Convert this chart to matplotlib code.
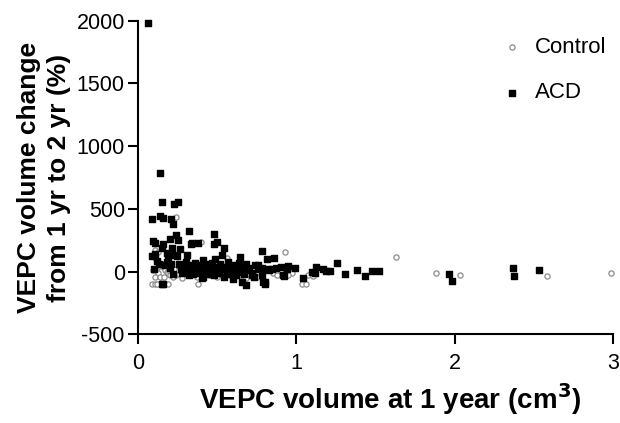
import matplotlib
matplotlib.use("Agg")
import matplotlib.pyplot as plt

plt.rcParams['font.family'] = ['Liberation Sans', 'DejaVu Sans']
plt.rcParams['axes.unicode_minus'] = False

# Control group: volume at 1 year (cm3), change 1->2 yr (%)
ctrl_x = [0.087, 0.107, 0.12, 0.19, 0.38, 1.034, 1.06,
          0.238, 0.398, 0.93, 1.628, 0.975, 1.072, 1.107, 1.883, 2.034, 2.582, 2.988,
          0.097, 0.11, 0.124, 0.107, 0.12, 0.135, 0.155, 0.16, 0.17, 0.18, 0.19, 0.2,
          0.125, 0.11, 0.14, 0.165, 0.2, 0.22, 0.24, 0.26, 0.25, 0.23, 0.28, 0.3,
          0.33, 0.35, 0.37, 0.4, 0.42, 0.45, 0.47, 0.5, 0.52, 0.55, 0.58, 0.6, 0.62,
          0.65, 0.68, 0.7, 0.72, 0.75, 0.8, 0.85, 0.88, 0.9, 0.95, 0.56]
ctrl_y = [-100, -100, -100, -100, -100, -100, -100,
          439, 239, 155, 120, -13, -26, -34, -13, -26, -37, -13,
          13, 170, 160, 107, 30, 45, 60, 35, 10, 0, -10, 0,
          -10, -40, -40, -40, -30, -40, -30, -20, 10, 20, -50, 30,
          -30, -10, -40, 20, -20, -30, 10, -40, -20, 0, -30, -10, 30,
          -30, -50, 10, -20, -40, 20, -10, -30, 10, -30, 110]

# ACD group
acd_x = [0.063, 0.139, 0.15, 0.23, 0.255, 0.087, 0.139, 0.156, 0.208, 0.223,
         0.325, 0.48, 0.24, 0.255, 0.097, 0.107, 0.16, 0.154, 0.202, 0.48,
         0.497, 0.335, 0.265, 0.217, 0.543, 0.087, 0.107, 0.181, 0.23, 0.244,
         0.307, 0.785, 0.817, 0.861, 0.118, 0.181, 0.15, 0.16, 0.68, 0.8,
         0.805, 1.045, 1.259, 1.124, 0.992, 1.171, 1.19, 1.213, 1.308, 1.385,
         1.434, 1.476, 1.524, 1.097, 1.12, 0.922, 0.9, 0.94, 1.967, 1.981,
         2.367, 2.377, 2.533,
         0.339, 0.381, 0.529, 0.486, 0.412, 0.644, 0.402, 0.602, 0.76, 0.781,
         0.823, 0.844, 0.949, 0.718, 0.735, 0.792, 0.918, 0.655,
         0.26, 0.27, 0.28, 0.29, 0.3, 0.31, 0.32, 0.33, 0.34, 0.35, 0.36, 0.37,
         0.38, 0.39, 0.4, 0.41, 0.42, 0.43, 0.44, 0.45, 0.46, 0.47, 0.48, 0.49,
         0.5, 0.51, 0.52, 0.53, 0.54, 0.55, 0.56, 0.57, 0.58, 0.59, 0.6, 0.61,
         0.62, 0.63, 0.64, 0.65, 0.66, 0.67, 0.68, 0.69, 0.7, 0.72, 0.74, 0.76,
         0.78, 0.83, 0.87, 0.2, 0.21, 0.22, 0.19, 0.17, 0.13, 0.1]
acd_y = [1980, 785, 553, 540, 553, 418, 444, 431, 418, 378,
         325, 303, 293, 253, 247, 226, 218, 191, 261, 221,
         239, 218, 178, 187, 191, 125, 139, 152, 133, 128,
         133, 165, 101, 107, 85, 80, -100, -100, -106, -100,
         -84, -53, 67, 40, 27, 22, 6, 6, -18, 14,
         -34, 8, 8, -5, -10, -32, 40, 20, -21, -72,
         27, -32, 11,
         226, 226, 133, 99, 93, 120, -53, -58, 53, 27,
         20, 20, 45, -26, -40, -80, -26, -80,
         60, 20, -10, 40, 80, 0, -30, 50, 10, -20, 70, 30,
         -10, 50, 0, -40, 20, 60, -20, 30, 0, 70, -30, 40,
         10, -10, 60, 20, -40, 40, 0, 80, 20, -20, 50, 10,
         -30, 30, 70, 0, 40, -20, 60, 10, 30, -10, 50, 20,
         -30, 10, 30, 30, 60, -20, 100, 50, 60, 20]

x_ticks = [0, 1, 2, 3]
y_ticks = [-500, 0, 500, 1000, 1500, 2000]

fig = plt.figure(figsize=(6.2, 4.23), dpi=100)
ax = fig.add_axes([0.2226, 0.2097, 0.7661, 0.7413])

ax.scatter(ctrl_x, ctrl_y, s=14, facecolors='white', edgecolors='#8c8c8c',
           linewidths=0.9, label='Control', clip_on=False, zorder=2)
ax.scatter(acd_x, acd_y, s=15, marker='s', color='black', label='ACD',
           clip_on=False, zorder=3)

ax.set_xlim(0, 3)
ax.set_ylim(-500, 2000)
ax.set_xticks(x_ticks)
ax.set_yticks(y_ticks)
ax.tick_params(direction='out', length=7, width=1.5, labelsize=15.5)
ax.tick_params(axis='x', pad=6.5)
ax.tick_params(axis='y', pad=2.5)

for side in ['top', 'right']:
    ax.spines[side].set_visible(False)
for side in ['left', 'bottom']:
    ax.spines[side].set_linewidth(1.5)

ax.set_xlabel('VEPC volume at 1 year (cm$^\\mathbf{3}$)', fontsize=20,
              fontweight='bold')
ax.xaxis.set_label_coords(0.531, -0.148)
ax.set_ylabel('VEPC volume change\nfrom 1 yr to 2 yr (%)', fontsize=19,
              fontweight='bold', labelpad=4, linespacing=1.3)

ax.legend(loc='upper left', bbox_to_anchor=(0.764, 0.948), frameon=False,
          fontsize=16, labelspacing=1.1, handlelength=1.0, handletextpad=0.55,
          borderpad=0, borderaxespad=0)

fig.savefig('out.png', dpi=100)
